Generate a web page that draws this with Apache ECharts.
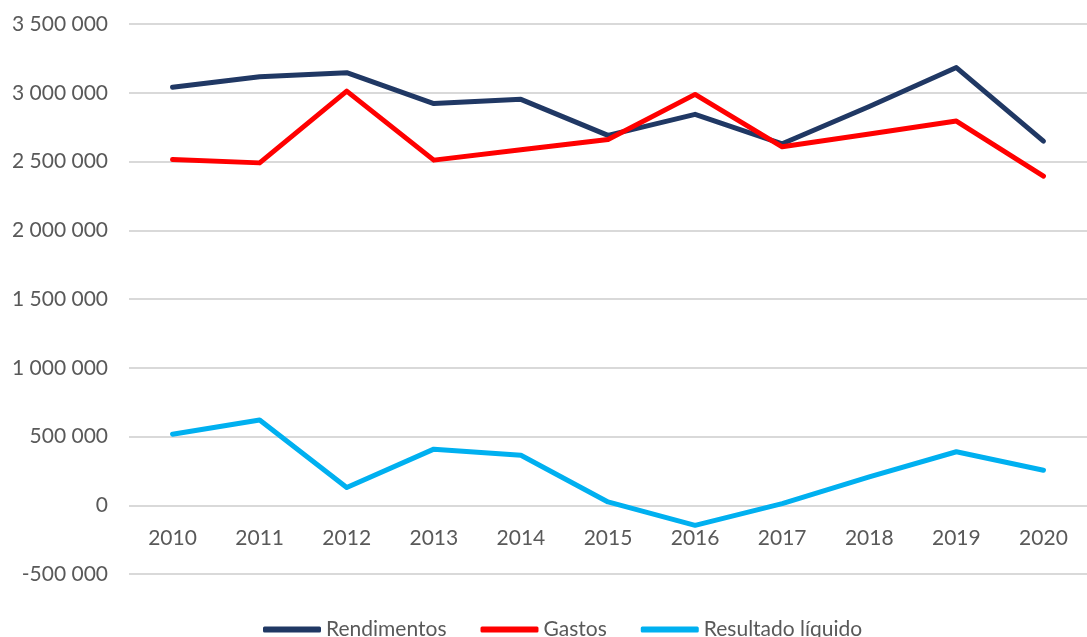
<!DOCTYPE html>
<html>
<head>
<meta charset="utf-8">
<script src="https://cdn.jsdelivr.net/npm/echarts@6/dist/echarts.min.js"></script>
<style>
  html, body { margin: 0; padding: 0; background: #fff; }
  #main { width: 1087px; height: 637px; }
</style>
</head>
<body>
<div id="main"></div>
<script>
  var years = ['2010', '2011', '2012', '2013', '2014', '2015', '2016', '2017', '2018', '2019', '2020'];
  var rendimentos = [3040000, 3117000, 3146000, 2921000, 2952000, 2690000, 2843000, 2629000, 2900000, 3183000, 2648000];
  var gastos = [2515000, 2490000, 3012000, 2510000, 2585000, 2660000, 2988000, 2607000, 2700000, 2794000, 2393000];
  var resultado = [517000, 620000, 129000, 408000, 364000, 24000, -146000, 12000, 206000, 389000, 255000];

  var font = 'Lato, "Open Sans", sans-serif';
  var chart = echarts.init(document.getElementById('main'));
  window.onresize = chart.resize;

  function fmt(v) {
    return String(v).replace(/\B(?=(\d{3})+(?!\d))/g, ' ');
  }

  chart.setOption({
    animation: false,
    textStyle: {fontFamily: font},
    grid: {top: 24, left: 129, right: -9, bottom: 63, containLabel: false},
    legend: {
      top: 614,
      left: 258,
      icon: 'roundRect',
      itemWidth: 58,
      itemHeight: 6,
      itemGap: 34,
      textStyle: {color: '#595959', fontSize: 21, fontFamily: font},
      data: ['Rendimentos', 'Gastos', 'Resultado líquido']
    },
    xAxis: {
      type: 'category',
      boundaryGap: true,
      data: years,
      // the axis sits on the zero line, 0.5M above the grid bottom
      offset: -69,
      axisLine: {show: false, onZero: false},
      axisTick: {show: false},
      axisLabel: {color: '#595959', fontSize: 21, margin: 23}
    },
    yAxis: {
      type: 'value',
      min: -500000,
      max: 3500000,
      interval: 500000,
      axisLine: {show: false},
      axisTick: {show: false},
      axisLabel: {color: '#595959', fontSize: 21, margin: 21, formatter: fmt},
      splitLine: {lineStyle: {color: '#d9d9d9', width: 2}}
    },
    series: [
      {
        type: 'line', name: 'Rendimentos', data: rendimentos,
        symbol: 'none', color: '#203864',
        lineStyle: {width: 5, cap: 'round', join: 'round'}
      },
      {
        type: 'line', name: 'Gastos', data: gastos,
        symbol: 'none', color: '#ff0000',
        lineStyle: {width: 5, cap: 'round', join: 'round'}
      },
      {
        type: 'line', name: 'Resultado líquido', data: resultado,
        symbol: 'none', color: '#00b0f0',
        lineStyle: {width: 5, cap: 'round', join: 'round'}
      }
    ]
  });
</script>
</body>
</html>
